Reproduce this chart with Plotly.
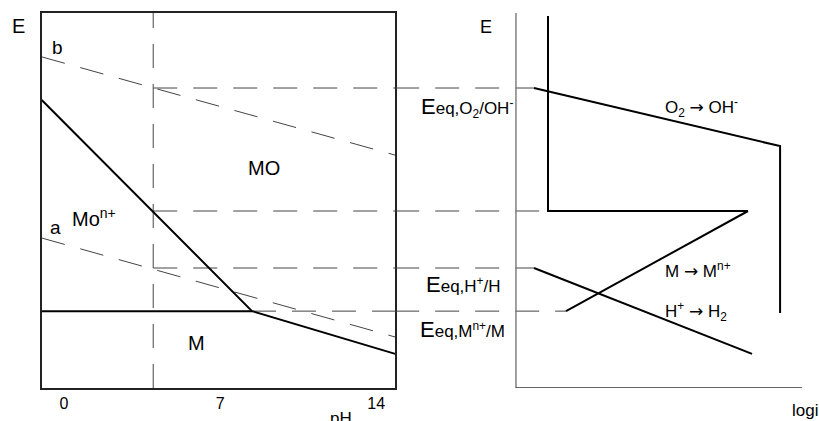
import plotly.graph_objects as go

# ---------------- data (abstract E units, pH, log i) ----------------
PH_MIN, PH_MAX = -1.0, 14.85
pH_ticks = [0, 7, 14]
pH_ticktext = ["0", "7", "14"]

# Pourbaix (left panel)
line_b_pH = [PH_MIN, PH_MAX]
line_b_E = [8.83, 6.21]
line_a_pH = [PH_MIN, PH_MAX]
line_a_E = [4.00, 1.36]
boundary_pH = [PH_MIN, 8.43, PH_MAX]
boundary_E = [7.68, 2.05, 0.91]
m_boundary_pH = [PH_MIN, 8.43]
m_boundary_E = [2.05, 2.05]
ph_marker = 4.0
E_levels = [8.00, 4.72, 3.20, 2.05]          # O2/OH-, corrosion, H+/H, Mn+/M
E_level_start_pH = [4.0, 4.0, 4.0, 8.43]
E_level_end_logi = [0.63, 1.12, 0.63, 1.75]

# Evans diagram (right panel)
LOGI_MIN, LOGI_MAX = -4.22, 10.59
axis_logi = [0, 10]
o2_logi = [0.63, 9.23, 9.23]
o2_E = [8.00, 6.45, 2.00]
passive_logi = [1.12, 1.12, 8.11]
passive_E = [9.92, 4.72, 4.72]
metal_logi = [1.75, 8.11]
metal_E = [2.05, 4.72]
h2_logi = [0.63, 8.25]
h2_E = [3.20, 0.91]

E_MIN, E_MAX = 0.0, 10.0

FONT = "Liberation Sans, Arial, sans-serif"
DASH = "24px,16px"
DASHCOL = "#444444"
ARROW = "<span style='font-family:DejaVu Sans'>\u2192</span>"

# axis domains (fractions of the figure)
X1_DOM = [41.7 / 819, 395.2 / 819]
X2_DOM = [395.2 / 819, 1.0]
Y_DOM = [33 / 421, 408 / 421]

def paper_x(v, lo, hi, dom):
    return dom[0] + (v - lo) / (hi - lo) * (dom[1] - dom[0])

def paper_y(E):
    return Y_DOM[0] + (E - E_MIN) / (E_MAX - E_MIN) * (Y_DOM[1] - Y_DOM[0])

fig = go.Figure()

def line(x, y, axis="x", color="black", width=2, dash="solid"):
    fig.add_trace(go.Scatter(x=x, y=y, mode="lines", xaxis=axis, yaxis="y",
                             line=dict(color=color, width=width, dash=dash),
                             hoverinfo="skip", showlegend=False))

# left panel dashed lines
line(line_b_pH, line_b_E, color=DASHCOL, width=1, dash=DASH)
line(line_a_pH, line_a_E, color=DASHCOL, width=1, dash=DASH)
line([ph_marker, ph_marker], [E_MIN, E_MAX], color=DASHCOL, width=1, dash=DASH)
for E, p0, l1 in zip(E_levels, E_level_start_pH, E_level_end_logi):
    line([p0, PH_MAX], [E, E], color=DASHCOL, width=1, dash=DASH)
    line([LOGI_MIN, l1], [E, E], axis="x2", color=DASHCOL, width=1, dash=DASH)

# left panel solid lines
line(boundary_pH, boundary_E, width=2)
line(m_boundary_pH, m_boundary_E, width=2)

# right panel axes
line([0, 0], [E_MIN, E_MAX], axis="x2", color="#808080", width=1.5)
line(axis_logi, [E_MIN, E_MIN], axis="x2", color="#333333", width=1.5)

# right panel curves
line(o2_logi, o2_E, axis="x2", width=2)
line(passive_logi, passive_E, axis="x2", width=2)
line(metal_logi, metal_E, axis="x2", width=2)
line(h2_logi, h2_E, axis="x2", width=2)

ann = []
def text(x, y, s, xref="x", yref="y", size=18, xanchor="center", yanchor="middle"):
    ann.append(dict(x=x, y=y, xref=xref, yref=yref, text=s, showarrow=False,
                    xanchor=xanchor, yanchor=yanchor,
                    font=dict(family=FONT, size=size, color="black")))

# left panel labels
text(paper_x(-2.06, PH_MIN, PH_MAX, X1_DOM), paper_y(9.65), "E",
     xref="paper", yref="paper", size=20)
text(-0.31, 9.09, "b", size=19)
text(-0.36, 4.27, "a", size=19)
text(0.27, 4.55, "Mo<sup>n+</sup>", size=20, xanchor="left")
text(8.97, 5.87, "MO", size=20)
text(5.92, 1.20, "M", size=20)
text(12.40, paper_y(-0.80), "pH", yref="paper", size=17)

# right panel labels
text(-1.05, 9.63, "E", xref="x2", size=18)
text(-0.03, 7.49, "E<span style='font-size:17px'>eq,O<sub>2</sub>/OH<sup>-</sup></span>",
     xref="x2", size=22, xanchor="right")
text(-0.45, 2.75, "E<span style='font-size:17px'>eq,H<sup>+</sup>/H</span>",
     xref="x2", size=22, xanchor="right")
text(-0.31, 1.55, "E<span style='font-size:17px'>eq,M<sup>n+</sup>/M</span>",
     xref="x2", size=22, xanchor="right")
text(5.14, 7.47, "O<sub>2</sub> " + ARROW + " OH<sup>-</sup>", xref="x2", size=17, xanchor="left")
text(5.14, 3.15, "M " + ARROW + " M<sup>n+</sup>", xref="x2", size=17, xanchor="left")
text(5.14, 2.05, "H<sup>+</sup> " + ARROW + " H<sub>2</sub>", xref="x2", size=17, xanchor="left")
text(paper_x(9.58, LOGI_MIN, LOGI_MAX, X2_DOM), paper_y(-0.59), "logi",
     xref="paper", yref="paper", size=17, xanchor="left")

fig.update_layout(
    width=819, height=421,
    margin=dict(l=0, r=0, t=0, b=0),
    paper_bgcolor="white", plot_bgcolor="white",
    showlegend=False,
    annotations=ann,
    xaxis=dict(domain=X1_DOM, range=[PH_MIN, PH_MAX], anchor="y",
               showline=True, mirror=True, linecolor="#222222", linewidth=2,
               tickvals=pH_ticks, ticktext=pH_ticktext, ticks="",
               tickfont=dict(family=FONT, size=16, color="black"),
               showgrid=False, zeroline=False, fixedrange=True),
    yaxis=dict(domain=Y_DOM, range=[E_MIN, E_MAX], anchor="x",
               showline=True, mirror=True, linecolor="#222222", linewidth=2,
               showticklabels=False, ticks="", showgrid=False, zeroline=False,
               fixedrange=True),
    xaxis2=dict(domain=X2_DOM, range=[LOGI_MIN, LOGI_MAX], anchor="y",
                showline=False, showticklabels=False, ticks="", showgrid=False,
                zeroline=False, fixedrange=True),
)

fig.write_html("out.html")
